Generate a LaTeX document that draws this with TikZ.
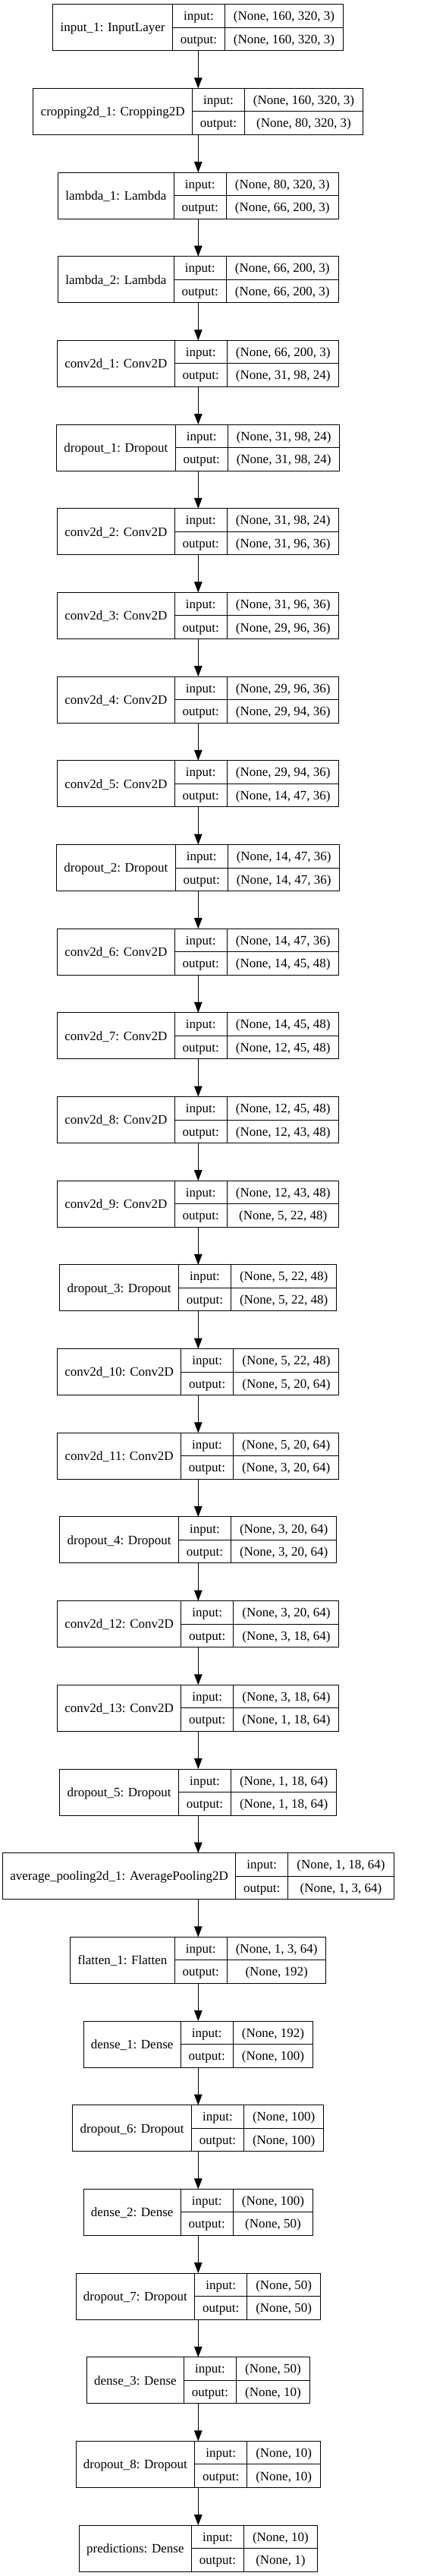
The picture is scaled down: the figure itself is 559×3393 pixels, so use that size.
\documentclass[tikz,border=0pt]{standalone}
\usepackage{fontspec}
\setmainfont{Liberation Serif}
\usetikzlibrary{arrows.meta, positioning}

\newcommand\kfont{\fontsize{17}{20}\selectfont}
\newlength\wname
\newlength\wlab
\newlength\wval
\newlength\wout
\newlength\wtmp

\tikzset{
  field/.style={draw=black, line width=1pt, inner sep=0pt, outer sep=0pt,
    font=\kfont, text height=13.2pt, text depth=1.6pt},
  namefield/.style={field, minimum height=61pt, anchor=north west},
  rowfield/.style={field, minimum height=30.5pt, anchor=north west},
  flow/.style={-{Triangle[length=14pt, width=10.5pt]}, line width=1pt, black}
}

% text width, taken outside the picture's null font
\newcommand\kmeasure[2]{%
  \pgfinterruptpicture\settowidth\wtmp{\kfont #2}\global#1=\wtmp\endpgfinterruptpicture}

% one layer record: id, row, name, input shape, output shape
\newcommand\kerasLayer[5]{%
  \kmeasure\wname{#3}\addtolength\wname{19.5pt}%
  \kmeasure\wlab{output:}\addtolength\wlab{21pt}%
  \kmeasure\wval{#4}\kmeasure\wout{#5}%
  \ifdim\wout>\wval \wval=\wout\fi
  \addtolength\wval{23pt}%
  \pgfmathsetmacro\xleft{261.3-(\wname+\wlab+\wval)/2}%
  \pgfmathsetmacro\ytop{5.7+#2*110.68}%
  \node[namefield, minimum width=\wname] (#1) at (\xleft,\ytop) {#3};
  \node[rowfield, minimum width=\wlab] (#1-il) at (#1.north east) {input:};
  \node[rowfield, minimum width=\wlab] (#1-ol) at (#1-il.south west) {output:};
  \node[rowfield, minimum width=\wval] (#1-iv) at (#1-il.north east) {#4};
  \node[rowfield, minimum width=\wval] (#1-ov) at (#1-iv.south west) {#5};
  \coordinate (#1-top) at (261.3,\ytop);
  \coordinate (#1-bot) at (261.3,\ytop+61);
}

\begin{document}
\begin{tikzpicture}[x=1pt, y=-1pt]
    \useasboundingbox (0,0) rectangle (559,3393);

    % layers
    \foreach \lname/\lin/\lout [count=\r from 0] in {
        {input\_1: InputLayer}/{(None, 160, 320, 3)}/{(None, 160, 320, 3)},
        {cropping2d\_1: Cropping2D}/{(None, 160, 320, 3)}/{(None, 80, 320, 3)},
        {lambda\_1: Lambda}/{(None, 80, 320, 3)}/{(None, 66, 200, 3)},
        {lambda\_2: Lambda}/{(None, 66, 200, 3)}/{(None, 66, 200, 3)},
        {conv2d\_1: Conv2D}/{(None, 66, 200, 3)}/{(None, 31, 98, 24)},
        {dropout\_1: Dropout}/{(None, 31, 98, 24)}/{(None, 31, 98, 24)},
        {conv2d\_2: Conv2D}/{(None, 31, 98, 24)}/{(None, 31, 96, 36)},
        {conv2d\_3: Conv2D}/{(None, 31, 96, 36)}/{(None, 29, 96, 36)},
        {conv2d\_4: Conv2D}/{(None, 29, 96, 36)}/{(None, 29, 94, 36)},
        {conv2d\_5: Conv2D}/{(None, 29, 94, 36)}/{(None, 14, 47, 36)},
        {dropout\_2: Dropout}/{(None, 14, 47, 36)}/{(None, 14, 47, 36)},
        {conv2d\_6: Conv2D}/{(None, 14, 47, 36)}/{(None, 14, 45, 48)},
        {conv2d\_7: Conv2D}/{(None, 14, 45, 48)}/{(None, 12, 45, 48)},
        {conv2d\_8: Conv2D}/{(None, 12, 45, 48)}/{(None, 12, 43, 48)},
        {conv2d\_9: Conv2D}/{(None, 12, 43, 48)}/{(None, 5, 22, 48)},
        {dropout\_3: Dropout}/{(None, 5, 22, 48)}/{(None, 5, 22, 48)},
        {conv2d\_10: Conv2D}/{(None, 5, 22, 48)}/{(None, 5, 20, 64)},
        {conv2d\_11: Conv2D}/{(None, 5, 20, 64)}/{(None, 3, 20, 64)},
        {dropout\_4: Dropout}/{(None, 3, 20, 64)}/{(None, 3, 20, 64)},
        {conv2d\_12: Conv2D}/{(None, 3, 20, 64)}/{(None, 3, 18, 64)},
        {conv2d\_13: Conv2D}/{(None, 3, 18, 64)}/{(None, 1, 18, 64)},
        {dropout\_5: Dropout}/{(None, 1, 18, 64)}/{(None, 1, 18, 64)},
        {average\_pooling2d\_1: AveragePooling2D}/{(None, 1, 18, 64)}/{(None, 1, 3, 64)},
        {flatten\_1: Flatten}/{(None, 1, 3, 64)}/{(None, 192)},
        {dense\_1: Dense}/{(None, 192)}/{(None, 100)},
        {dropout\_6: Dropout}/{(None, 100)}/{(None, 100)},
        {dense\_2: Dense}/{(None, 100)}/{(None, 50)},
        {dropout\_7: Dropout}/{(None, 50)}/{(None, 50)},
        {dense\_3: Dense}/{(None, 50)}/{(None, 10)},
        {dropout\_8: Dropout}/{(None, 10)}/{(None, 10)},
        {predictions: Dense}/{(None, 10)}/{(None, 1)}%
    }{\kerasLayer{L\r}{\r}{\lname}{\lin}{\lout}}

    % arrows between layers
    \foreach \i [evaluate=\i as \j using int(\i+1)] in {0,...,29}
        \draw[flow] (L\i-bot) -- (L\j-top);
\end{tikzpicture}
\end{document}
